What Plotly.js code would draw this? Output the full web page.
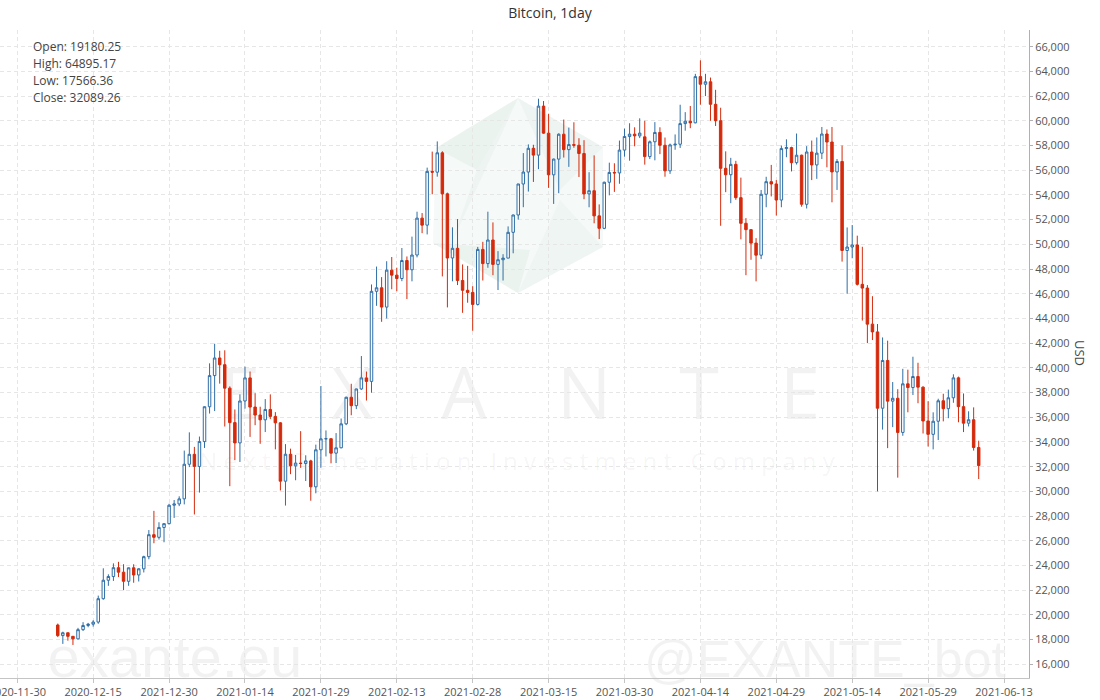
<!DOCTYPE html>
<html><head><meta charset="utf-8">
<script src="https://cdn.plot.ly/plotly-3.0.1.min.js"></script>
<style>html,body{margin:0;padding:0;background:#fff}#chart{width:1100px;height:700px}</style>
</head><body><div id="chart"></div>
<script>
// ---- DATA (daily candles, first day 2020-12-08) ----
const firstDay = [2020, 11, 8];
const openP = [
 // Dec 8-31
 19180.25,18321,18553,18264,18058,18803,19142,19246,19418,21310,22805,23107,23821,23455,22719,23810,23232,23729,24712,26493,26281,27079,27385,28876,
 // Jan
 28982,29393,32195,33000,32020,34030,36850,39371,40797,40254,38356,35566,33922,37316,39187,36825,36178,35792,36630,36069,35547,30825,33005,32067,32289,32254,32467,30366,33364,34252,34262,
 // Feb
 33092,33526,35466,37618,36936,38290,39186,38903,46196,46481,44918,47909,47504,47232,48688,47939,49133,52119,51552,55906,55841,57408,54087,48891,49676,47073,46276,46106,
 // Mar
 45135,49587,48440,50349,48374,48751,48882,50971,52375,54884,55851,57773,57221,61188,59000,55626,56900,58913,57665,58075,58020,57351,54083,54340,52303,51293,55025,55817,55777,57628,58730,
 // Apr
 58918,58780,58700,57100,58300,59057,58020,55947,58048,58102,59774,59964,59835,63577,62959,63159,61334,60006,56151,55633,56473,53776,51701,51188,50098,49121,54053,55072,54884,53585,
 // May
 57750,57828,56610,57213,53242,57473,56426,57380,58928,58280,55859,56704,49500,49780,49950,46760,46456,43538,42909,36731,40597,37304,37536,34771,38705,38403,39295,38437,35698,34617,35678,
 // Jun 1-8
 37333,36693,37575,39188,36856,35520,35797,33552
];
const highP = [
 19294,18639,18557,18290,18948,19411,19349,19570,21560,23770,23285,24170,24295,24102,23837,24100,23780,24789,26867,28422,27500,27400,28997,29300,
 29600,33300,34778,33600,34437,36879,40365,41950,41380,41420,38500,36628,37850,40100,39700,37950,36852,37469,37850,36415,35600,33826,33456,32945,34875,32921,32557,33783,38531,34933,34288,
 34717,35896,37662,38708,38310,40955,39700,46750,48200,47345,48630,48972,48108,49700,49015,50623,52641,52530,56208,57506,58330,57534,54183,51374,52041,48370,48254,46609,
 49790,50200,52640,51773,49448,49200,51450,52400,54895,57387,58090,58058,61788,61600,60570,56938,58985,60100,59450,59880,58589,58430,55838,57200,53230,55073,56610,56559,58400,59368,59800,
 59474,60200,60000,58400,59891,59475,58644,58153,58894,61300,60700,61200,63800,64895.17,63800,63500,62507,61057,57526,57000,56757,55400,52120,51200,50500,54400,55466,56428,55200,58000,
 58500,57900,58970,57260,57950,58400,58650,59500,59300,59500,56900,58000,51367,51560,50700,49800,46700,45800,43546,42462,42200,38850,38270,39920,39850,40900,40411,38500,37300,36400,37500,
 37900,38235,39476,39289,37925,36480,36800,34100
];
const lowP = [
 18200,17650,17911,17566.36,18020,18700,19000,19050,19280,21230,22350,22750,23060,22000,22353,22600,22703,23433,24500,25800,26101,25880,27320,27850,
 28803,28946,31963,28130,29900,33514,36300,36500,38720,35250,30420,32531,32380,36700,34408,35357,33850,34800,35844,33400,30071,28850,31390,30900,31900,30837,29241,29842,31915,32825,32270,
 32296,33489,35362,36161,36658,38215,37351,37988,45020,43727,43994,46362,46202,47015,45568,47002,48944,50901,50800,54050,55477,47400,44892,47004,46700,44454,45270,43000,
 45043,47070,48100,47500,46300,47070,48882,49274,52000,53005,54270,55050,56083,58950,54568,53271,54138,57023,56270,57820,55450,53650,53000,51700,50427,51225,53966,54242,54900,57100,56769,
 57935,58600,56450,56900,56800,57300,55473,55700,57654,57800,59200,59400,59800,61300,62000,60000,59580,51500,54221,53329,53600,50400,47500,48750,47000,48800,53000,53876,52330,53000,
 57050,55900,56460,53046,52900,55200,55300,56900,56235,53400,54400,48600,46000,48870,46664,43825,42001,42250,30000,35000,33500,35200,31111,34500,36400,37800,37134,34684,33632,33400,34153,
 35666,35920,37170,35590,34800,35255,33300,31000
];
const closeP = [
 18321,18553,18264,18058,18803,19142,19246,19418,21310,22805,23107,23821,23455,22719,23810,23232,23729,24712,26493,26281,27079,27385,28876,28982,
 29393,32195,33000,32020,34030,36850,39371,40797,40254,38356,35566,33922,37316,39187,36825,36178,35792,36630,36069,35547,30825,33005,32067,32289,32254,32467,30366,33364,34252,34262,33092,
 33526,35466,37618,36936,38290,39186,38903,46196,46481,44918,47909,47504,47232,48688,47939,49133,52119,51552,55906,55841,57408,54087,48891,49676,47073,46276,46106,45135,
 49587,48440,50349,48374,48751,48882,50971,52375,54884,55851,57773,57221,61188,59000,55626,56900,58913,57665,58075,58020,57351,54083,54340,52303,51293,55025,55817,55777,57628,58730,58918,
 58780,59000,57100,58300,59057,58020,55947,58048,58102,59774,59964,59835,63577,62959,63159,61334,60006,56151,55633,56473,53776,51701,51188,50098,49121,54053,55072,54884,53585,57750,
 57828,56610,57213,53242,57473,56426,57380,58928,58280,55859,56704,49500,49780,49950,46760,46456,43538,42909,36731,40597,37304,37536,34771,38705,38403,39295,38437,35698,34617,35678,37333,
 36693,37575,39188,36856,35520,35797,33552,32089.26
];
const tickVals = ['2020-11-30','2020-12-15','2020-12-30','2021-01-14','2021-01-29','2021-02-13','2021-02-28','2021-03-15','2021-03-30','2021-04-14','2021-04-29','2021-05-14','2021-05-29','2021-06-13'];
const tickText = ['2020-11-30','2020-12-15','2021-12-30','2021-01-14','2021-01-29','2021-02-13','2021-02-28','2021-03-15','2021-03-30','2021-04-14','2021-04-29','2021-05-14','2021-05-29','2021-06-13'];
const chartTitle = 'Bitcoin, 1day';
const yTitle = 'USD';

// ---- dates ----
const dates = [];
for (let i = 0; i < openP.length; i++) {
  const d = new Date(Date.UTC(firstDay[0], firstDay[1], firstDay[2]) + i * 86400000);
  dates.push(d.toISOString().slice(0, 10));
}

// summary
const sOpen = openP[0];
const sHigh = Math.max(...highP);
const sLow = Math.min(...lowP);
const sClose = closeP[closeP.length - 1];

// ---- geometry helpers (plot area: x 0..1029, y 30..678) ----
const M = {l: 0, r: 71, t: 30, b: 22};
const PW = 1100 - M.l - M.r, PH = 700 - M.t - M.b;
const px = x => (x - M.l) / PW;
const py = y => (700 - M.b - y) / PH;

const wmColor = 'rgba(0,0,0,0.05)';
function wmText(text, cx, cy, size, family) {
  return {type: 'rect', xref: 'paper', yref: 'paper', layer: 'between',
    x0: px(cx - 1), x1: px(cx + 1), y0: py(cy + 1), y1: py(cy - 1),
    line: {width: 0}, fillcolor: 'rgba(0,0,0,0)',
    label: {text: text, textposition: 'middle center', padding: 0,
      font: {family: family || 'Open Sans, sans-serif', size: size, color: wmColor}}};
}
function poly(pts, color) {
  let p = 'M ' + pts.map(q => px(q[0]).toFixed(4) + ',' + py(q[1]).toFixed(4)).join(' L ') + ' Z';
  return {type: 'path', xref: 'paper', yref: 'paper', layer: 'below', path: p,
    line: {width: 0}, fillcolor: color};
}

const shapes = [
  // logo
  poly([[518,98],[436,148],[433,243],[518,293],[603,247],[603,147]], 'rgba(200,222,212,0.18)'),
  poly([[518,98],[436,148],[477,170]], 'rgba(195,218,207,0.18)'),
  poly([[518,98],[453,240],[477,170]], 'rgba(195,218,207,0.13)'),
  poly([[433,243],[518,293],[530,250]], 'rgba(195,218,207,0.18)'),
  poly([[518,98],[603,147],[560,190]], 'rgba(195,218,207,0.13)'),
  poly([[603,247],[518,293],[560,200]], 'rgba(195,218,207,0.11)'),
  // big letters
  wmText('E', 240, 396, 72), wmText('X', 352, 396, 72), wmText('A', 464, 396, 72),
  wmText('N', 584, 396, 72), wmText('T', 699, 396, 72), wmText('E', 800, 396, 72),
  wmText('N e x t   G e n e r a t i o n   I n v e s t m e n t   C o m p a n y', 517, 462, 24),
  wmText('exante.eu', 175, 651, 58, 'Liberation Sans, sans-serif'),
  wmText('@EXANTE_bot', 825, 654, 52, 'Liberation Sans, sans-serif')
];

const ohlcFont = {family: 'Open Sans, sans-serif', size: 12, color: '#444'};
const annotations = [
  ['Open: ' + sOpen.toFixed(2), 46], ['High: ' + sHigh.toFixed(2), 63],
  ['Low: ' + sLow.toFixed(2), 80], ['Close: ' + sClose.toFixed(2), 97]
].map(a => ({xref: 'paper', yref: 'paper', x: px(31), y: py(a[1]), xanchor: 'left', yanchor: 'middle',
  text: a[0], showarrow: false, font: ohlcFont}));
annotations.push({xref: 'paper', yref: 'paper', x: px(1080), y: py(353), xanchor: 'center', yanchor: 'middle',
  text: yTitle, textangle: 90, showarrow: false, font: {family: 'Open Sans, sans-serif', size: 13, color: '#444'}});

const trace = {
  type: 'candlestick', x: dates, open: openP, high: highP, low: lowP, close: closeP,
  increasing: {line: {color: '#2f6ea6', width: 1}, fillcolor: '#ffffff'},
  decreasing: {line: {color: '#d42a0c', width: 1}, fillcolor: '#d42a0c'},
  whiskerwidth: 0, showlegend: false
};

const layout = {
  width: 1100, height: 700, margin: M, paper_bgcolor: '#fff', plot_bgcolor: '#fff',
  font: {family: 'Open Sans, sans-serif', color: '#555'},
  title: {text: chartTitle, x: 0.5, xref: 'container', xanchor: 'center', y: 1 - 13/700, yref: 'container', yanchor: 'middle',
    font: {size: 14, color: '#333'}},
  showlegend: false,
  xaxis: {type: 'date', range: ['2020-11-26 14:00', '2021-06-17 22:30'], rangeslider: {visible: false},
    tickmode: 'array', tickvals: tickVals, ticktext: tickText, ticklabeloverflow: 'allow',
    showgrid: true, gridcolor: '#e6e6e6', griddash: '4px,3px', gridwidth: 1,
    showline: true, linecolor: '#c4c4c4', ticks: 'outside', ticklen: 4, tickcolor: '#c4c4c4',
    tickfont: {size: 11, color: '#555'}, zeroline: false},
  yaxis: {side: 'right', range: [14890, 67350], tickmode: 'linear', tick0: 0, dtick: 2000, tickformat: ',d',
    showgrid: true, gridcolor: '#e6e6e6', griddash: '4px,3px', gridwidth: 1,
    showline: true, linecolor: '#b0b0b0', ticks: 'outside', ticklen: 3, tickcolor: '#b0b0b0',
    tickfont: {size: 11, color: '#555'}, zeroline: false},
  shapes: shapes, annotations: annotations
};

Plotly.newPlot('chart', [trace], layout, {displayModeBar: false, staticPlot: true});
</script>
</body></html>
